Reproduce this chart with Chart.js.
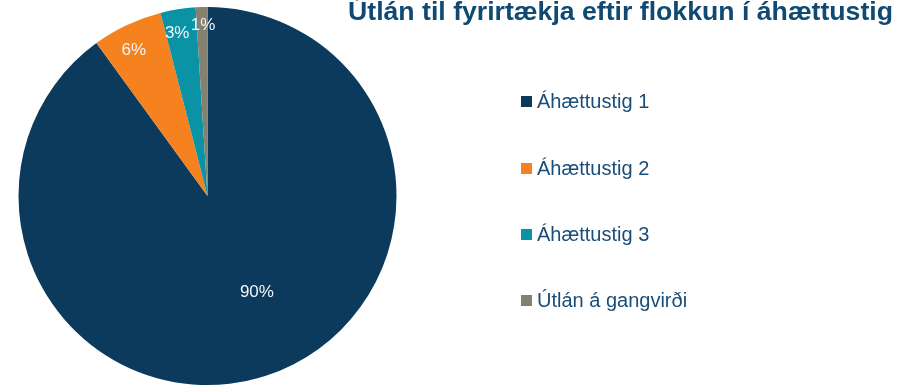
<!DOCTYPE html>
<html lang="is">
<head>
<meta charset="utf-8">
<title>Útlán til fyrirtækja eftir flokkun í áhættustig</title>
<script src="https://cdn.jsdelivr.net/npm/chart.js@4/dist/chart.umd.min.js"></script>
<style>
  html, body { margin: 0; padding: 0; background: #ffffff; }
  #wrap { width: 909px; height: 390px; position: relative; }
</style>
</head>
<body>
<div id="wrap"><canvas id="chart"></canvas></div>
<script>
// Flokkun útlána til fyrirtækja (hlutfall, %)
const chartTitle = 'Útlán til fyrirtækja eftir flokkun í áhættustig';
const categories = ['Áhættustig 1', 'Áhættustig 2', 'Áhættustig 3', 'Útlán á gangvirði'];
const shares = [90, 6, 3, 1];
const sliceColors = ['#0b3a5c', '#f5821f', '#0a93a5', '#858170'];

// Placement of the value labels: radius as fraction of the pie, angle shift in degrees
const labelRadius = [0.57, 0.87, 0.88, 0.91];
const labelAngleShift = [-9.3, -1.4, -1.5, 0.3];

const FONT = '"Liberation Sans", Arial, sans-serif';

const overlayPlugin = {
  id: 'overlay',
  afterDatasetsDraw(chart) {
    const ctx = chart.ctx;
    const meta = chart.getDatasetMeta(0);
    ctx.save();
    ctx.font = '17px ' + FONT;
    ctx.fillStyle = '#f2f5f8';
    ctx.textAlign = 'center';
    ctx.textBaseline = 'middle';
    meta.data.forEach((arc, i) => {
      const p = arc.getProps(['x', 'y', 'startAngle', 'endAngle', 'outerRadius'], true);
      const mid = (p.startAngle + p.endAngle) / 2 + labelAngleShift[i] * Math.PI / 180;
      const r = p.outerRadius * labelRadius[i];
      const v = chart.data.datasets[0].data[i];
      ctx.fillText(Math.round(v) + '%', p.x + Math.cos(mid) * r, p.y + Math.sin(mid) * r + 1);
    });
    ctx.restore();
  },
  afterDraw(chart) {
    const ctx = chart.ctx;
    ctx.save();
    // title, set slightly wide, right edge at x = 893
    ctx.font = 'bold 25px ' + FONT;
    ctx.fillStyle = '#104a73';
    ctx.textAlign = 'left';
    ctx.textBaseline = 'alphabetic';
    const left = 348, right = 893;
    const w = ctx.measureText(chartTitle).width;
    ctx.translate(left, 20);
    ctx.scale((right - left) / w, 1);
    ctx.fillText(chartTitle, 0, 0);
    ctx.restore();

    ctx.save();
    // legend
    const rows = [101, 168, 234, 300];
    ctx.font = '20px ' + FONT;
    ctx.textAlign = 'left';
    ctx.textBaseline = 'middle';
    chart.data.labels.forEach((lab, i) => {
      ctx.fillStyle = chart.data.datasets[0].backgroundColor[i];
      ctx.fillRect(521, rows[i] - 5, 11, 11);
      ctx.fillStyle = '#1a4d78';
      ctx.fillText(lab, 537, rows[i] + 1);
    });
    ctx.restore();
  }
};

new Chart(document.getElementById('chart'), {
  type: 'pie',
  data: {
    labels: categories,
    datasets: [{
      data: shares,
      backgroundColor: sliceColors,
      borderWidth: 0
    }]
  },
  options: {
    responsive: true,
    maintainAspectRatio: false,
    devicePixelRatio: 1,
    animation: false,
    layout: { padding: { left: 18, top: 7, right: 512, bottom: 5 } },
    plugins: {
      legend: { display: false },
      title: { display: false },
      tooltip: { enabled: false }
    }
  },
  plugins: [overlayPlugin]
});
</script>
</body>
</html>
